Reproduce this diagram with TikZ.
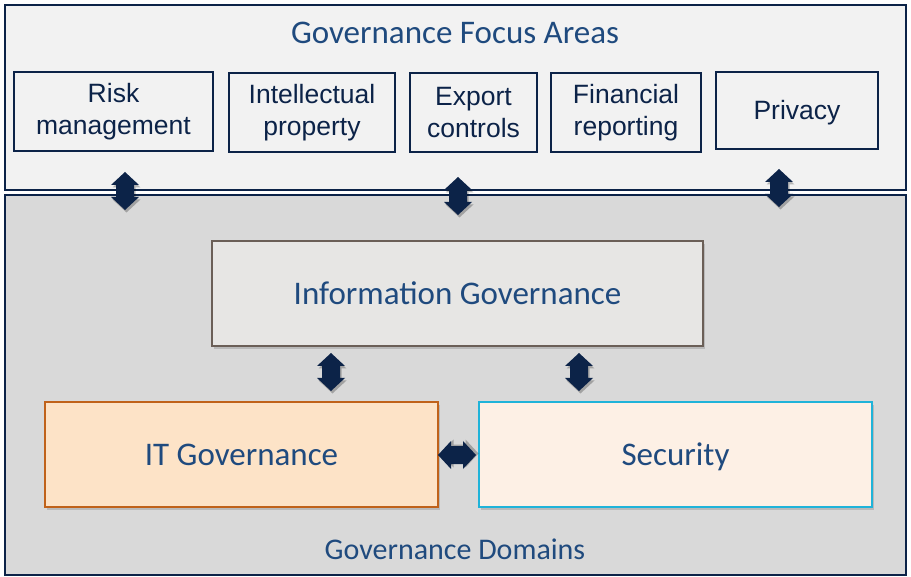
\documentclass[tikz,border=0pt]{standalone}
\usepackage{fontspec}
\setmainfont{Carlito}
\newfontfamily\arialf{Liberation Sans}
\usetikzlibrary{shadows}
\definecolor{navy}{HTML}{0C2348}
\definecolor{titleblue}{HTML}{1F4A7E}
\definecolor{toparea}{HTML}{F2F2F2}
\definecolor{botarea}{HTML}{D9D9D9}
\definecolor{infofill}{HTML}{E7E6E4}
\definecolor{infodraw}{HTML}{6B5F57}
\definecolor{itfill}{HTML}{FDE3C7}
\definecolor{itdraw}{HTML}{C0621A}
\definecolor{secfill}{HTML}{FDF0E5}
\definecolor{secdraw}{HTML}{1FB3D9}
\tikzset{
  areabox/.style={draw=navy, line width=2pt},
  focusbox/.style={draw=navy, line width=1.6pt, fill=toparea, align=center, inner sep=0pt,
     font=\arialf\fontsize{26.5}{32.5}\selectfont, text=navy},
  dombox/.style={line width=2pt, inner sep=0pt, font=\fontsize{33}{38}\selectfont, text=titleblue,
     text height=29pt, text depth=6.6pt,
     drop shadow={shadow xshift=2pt, shadow yshift=-3pt, opacity=0.35}},
  ttltext/.style={font=\fontsize{33}{38}\selectfont, text=titleblue, inner sep=0pt},
  varrow/.pic={
    \fill[black, opacity=0.25, shift={(1.5,2.5)}] (0,-19) -- (14,-6) -- (9,-6) -- (9,6) -- (14,6) -- (0,19) -- (-14,6) -- (-9,6) -- (-9,-6) -- (-14,-6) -- cycle;
    \fill[navy] (0,-19) -- (14,-6) -- (9,-6) -- (9,6) -- (14,6) -- (0,19) -- (-14,6) -- (-9,6) -- (-9,-6) -- (-14,-6) -- cycle;
  }
}
\begin{document}
\begin{tikzpicture}[x=1pt, y=-1pt]
\useasboundingbox[fill=white] (0,0) rectangle (911,577);
% areas
\draw[areabox, fill=toparea] (5,5) rectangle (906,190);
\draw[areabox, fill=botarea] (5,195) rectangle (906,575);
\node[ttltext] (ftitle) at (455,33) {Governance Focus Areas};
\node[ttltext, font=\fontsize{30}{35}\selectfont] (dtitle) at (455,549) {Governance Domains};
% focus boxes
\node[focusbox, minimum width=199pt, minimum height=79pt] (risk) at (113.5,111.5) {Risk\\management};
\node[focusbox, minimum width=166pt, minimum height=79pt] (ip) at (312,112.5) {Intellectual\\property};
\node[focusbox, minimum width=127pt, minimum height=79pt] (export) at (473.5,112.5) {Export\\controls};
\node[focusbox, minimum width=150pt, minimum height=79pt] (fin) at (626,112.5) {Financial\\reporting};
\node[focusbox, minimum width=162pt, minimum height=77pt, text height=22.5pt, text depth=4pt] (priv) at (797,110.5) {Privacy};
% domain boxes
\node[dombox, draw=infodraw, fill=infofill, minimum width=491pt, minimum height=105pt] (info) at (457.5,293.5) {Information Governance};
\node[dombox, draw=itdraw, fill=itfill, minimum width=393pt, minimum height=105pt] (itg) at (241.5,454.5) {IT Governance};
\node[dombox, draw=secdraw, fill=secfill, minimum width=393pt, minimum height=105pt] (sec) at (675.5,454.5) {Security};
% arrows
\coordinate (a1) at (125,191);
\coordinate (a2) at (458,196);
\coordinate (a3) at (779,188);
\coordinate (a4) at (331,372);
\coordinate (a5) at (579,372);
\coordinate (a6) at (457,455);
\pic at (a1) {varrow};
\pic at (a2) {varrow};
\pic at (a3) {varrow};
\pic at (a4) {varrow};
\pic at (a5) {varrow};
\pic[rotate=90] at (a6) {varrow};
\end{tikzpicture}
\end{document}
